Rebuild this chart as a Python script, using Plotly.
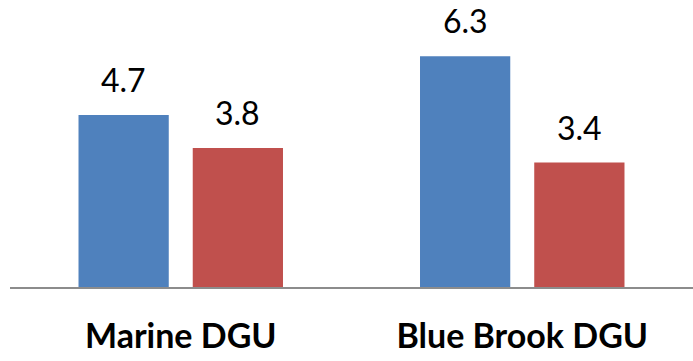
import plotly.graph_objects as go

categories = ["Marine DGU", "Blue Brook DGU"]
series_a = [4.7, 6.3]
series_b = [3.8, 3.4]

BLUE = "#4F81BD"
RED = "#C0504D"

fig = go.Figure()
fig.add_trace(go.Bar(x=categories, y=series_a, marker=dict(color=BLUE, line=dict(width=0)), showlegend=False))
fig.add_trace(go.Bar(x=categories, y=series_b, marker=dict(color=RED, line=dict(width=0)), showlegend=False))

# value labels above each bar
for vals, shift in ((series_a, -57), (series_b, 57)):
    for cat, v in zip(categories, vals):
        fig.add_annotation(
            x=cat, y=v, xref="x", yref="y", text=f"{v:.1f}", showarrow=False,
            xanchor="center", yanchor="bottom", xshift=shift, yshift=14,
            font=dict(family="Lato", size=32, color="#000000"),
        )

fig.update_layout(
    width=693, height=361,
    margin=dict(l=10, r=0, t=0, b=74),
    paper_bgcolor="white", plot_bgcolor="white",
    barmode="group", bargap=0.331, bargroupgap=0.21,
    xaxis=dict(
        type="category", range=[-0.5, 1.5],
        showline=True, linecolor="#8C8C8C", linewidth=1.5,
        showgrid=False, zeroline=False, ticks="",
        tickfont=dict(family="Lato", size=34, color="#000000", weight="bold"),
        ticklabelstandoff=18,
    ),
    yaxis=dict(range=[0, 7.84], visible=False, showgrid=False, zeroline=False),
)

fig.write_html("out.html")
